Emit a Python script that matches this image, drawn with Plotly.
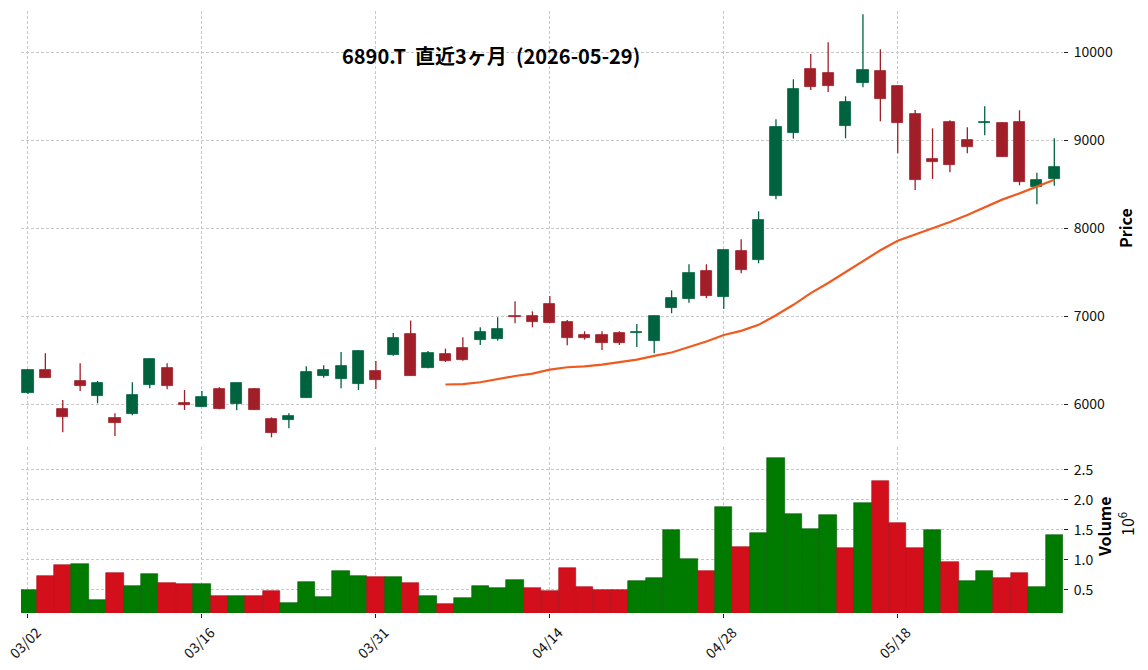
import pandas as pd
import plotly.graph_objects as go

dates = ["03/02","03/03","03/04","03/05","03/06","03/09","03/10","03/11","03/12","03/13",
         "03/16","03/17","03/18","03/19","03/23","03/24","03/25","03/26","03/27","03/30",
         "03/31","04/01","04/02","04/03","04/06","04/07","04/08","04/09","04/10","04/13",
         "04/14","04/15","04/16","04/17","04/20","04/21","04/22","04/23","04/24","04/27",
         "04/28","04/30","05/01","05/07","05/08","05/11","05/12","05/13","05/14","05/15",
         "05/18","05/19","05/20","05/21","05/22","05/25","05/26","05/27","05/28","05/29"]

opens = [6132,6390,5947,6265,6098,5845,5894,6223,6413,6015,
         5973,6174,6004,6174,5833,5826,6076,6326,6292,6235,
         6379,6564,6799,6417,6572,6640,6735,6746,7005,7004,
         7140,6936,6788,6788,6811,6810,6723,7098,7201,7515,
         7223,7742,7644,8371,9087,9811,9765,9167,9648,9788,
         9617,9299,8784,9208,9004,9200,9197,9208,8473,8561]
highs = [6395,6580,6049,6466,6265,5898,6250,6520,6466,6163,
         6151,6193,6245,6185,5852,5898,6432,6443,6595,6610,
         6492,6811,6951,6606,6633,6761,6875,6989,7170,7057,
         7231,6958,6830,6830,6830,6913,7010,7295,7591,7591,
         7754,7875,8193,9239,9693,9981,10114,9500,10432,10034,
         9625,9344,9136,9227,9148,9386,9208,9341,8632,9023]
lows = [6117,6300,5682,6151,6011,5640,5875,6182,6170,5936,
        5970,5943,5932,5935,5625,5727,6072,6303,6182,6163,
        6174,6553,6326,6410,6481,6496,6674,6723,6920,6875,
        6925,6670,6735,6617,6674,6652,6580,7034,7155,7205,
        7087,7489,7602,8330,9019,9572,9549,9023,9602,9216,
        8852,8436,8561,8636,8852,9057,8810,8489,8273,8482]
closes = [6390,6303,5860,6212,6242,5792,6106,6515,6212,5989,
          6083,5951,6242,5939,5678,5867,6367,6390,6436,6606,
          6280,6754,6326,6583,6496,6508,6822,6856,6995,6939,
          6928,6758,6752,6701,6696,6815,7008,7208,7492,7235,
          7754,7530,8095,9152,9583,9610,9621,9436,9799,9466,
          9201,8553,8758,8723,8928,9212,8814,8527,8545,8697]
volumes = [490000,730000,910000,930000,330000,780000,560000,760000,610000,590000,
           590000,390000,390000,390000,480000,280000,630000,380000,810000,730000,
           710000,710000,610000,390000,260000,360000,560000,530000,660000,530000,
           480000,860000,540000,490000,490000,640000,690000,1490000,1010000,810000,
           1870000,1210000,1440000,2690000,1760000,1520000,1740000,1190000,1940000,2310000,
           1620000,1190000,1490000,960000,640000,810000,690000,780000,540000,1410000]

tick_idx = [0, 10, 20, 30, 40, 50]
price_ticks = [6000, 7000, 8000, 9000, 10000]
price_ticktext = ["6000", "7000", "8000", "9000", "10000"]
vol_ticks = [500000, 1000000, 1500000, 2000000, 2500000]
vol_ticktext = ["0.5", "1.0", "1.5", "2.0", "2.5"]
title_text = "6890.T  直近3ヶ月  (2026-05-29)"

UP_C, DN_C = "#006340", "#a01f29"
VUP_C, VDN_C = "#007b00", "#d30f1c"
FONT = "Noto Sans CJK JP"

n = len(closes)
x = list(range(n))
up = [c >= o for o, c in zip(opens, closes)]
ma = pd.Series(closes).rolling(25).mean()

fig = go.Figure()

# wicks
for flag, col in [(True, UP_C), (False, DN_C)]:
    wx, wy = [], []
    for i in x:
        if up[i] == flag:
            wx += [i, i, None]
            wy += [lows[i], highs[i], None]
    fig.add_trace(go.Scatter(x=wx, y=wy, mode="lines", line=dict(color=col, width=1.3),
                             hoverinfo="skip", showlegend=False, xaxis="x", yaxis="y"))

# bodies
for flag, col in [(True, UP_C), (False, DN_C)]:
    bx = [i for i in x if up[i] == flag]
    base = [min(opens[i], closes[i]) for i in bx]
    hgt = [max(abs(closes[i] - opens[i]), 6) for i in bx]
    fig.add_trace(go.Bar(x=bx, y=hgt, base=base, width=0.64,
                         marker=dict(color=col, line=dict(color=col, width=0.8)),
                         showlegend=False, xaxis="x", yaxis="y"))

fig.add_trace(go.Scatter(x=x, y=ma, mode="lines", line=dict(color="#f05a1e", width=2.2),
                         showlegend=False, xaxis="x", yaxis="y"))

# volume colors: close vs previous close
vcols, vedge = [], []
for i in x:
    if i == 0:
        u = closes[0] >= opens[0]
    else:
        u = closes[i] > closes[i - 1]
    vcols.append(VUP_C if u else VDN_C)
    vedge.append("#005c00" if u else "#a80a14")
fig.add_trace(go.Bar(x=x, y=volumes, width=1.0,
                     marker=dict(color=vcols, line=dict(color=vedge, width=0.6)),
                     showlegend=False, xaxis="x2", yaxis="y2"))

grid = dict(showgrid=True, gridcolor="#c8c8c8", gridwidth=0.7, griddash="3px,2px", zeroline=False,
            showline=False, automargin=False)
L, R, T, B = 21, 85, 11, 57
H = 670 - T - B
Wd = 1148 - L - R
price_bottom_px, vol_top_px = 441, 447

fig.update_layout(
    width=1148, height=670,
    margin=dict(l=L, r=R, t=T, b=B, autoexpand=False),
    paper_bgcolor="white", plot_bgcolor="white",
    bargap=0, barmode="overlay",
    font=dict(family=FONT, size=14, color="#111111"),
    xaxis=dict(domain=[0, 1], range=[-0.4, 59.5], tickvals=tick_idx, showticklabels=False,
               ticks="", anchor="y", **grid),
    xaxis2=dict(domain=[0, 1], range=[-0.4, 59.5], tickvals=tick_idx,
                ticktext=[dates[i] for i in tick_idx], tickangle=-45, ticks="outside",
                ticklen=4, tickcolor="#222", anchor="y2", tickfont=dict(size=14),
                ticklabelshift=9, ticklabelstandoff=1, ticklabeloverflow="allow", **grid),
    yaxis=dict(domain=[(613 - price_bottom_px) / H, 1], range=[5583, 10469], side="right",
               tickvals=price_ticks, ticktext=price_ticktext, ticks="outside", ticklen=4,
               tickcolor="#222", ticklabelstandoff=3, anchor="x", **grid),
    yaxis2=dict(domain=[0, (613 - vol_top_px) / H], range=[112000, 2878000], side="right",
                tickvals=vol_ticks, ticktext=vol_ticktext, ticks="outside", ticklen=4,
                tickcolor="#222", ticklabelstandoff=3, anchor="x2", **grid),
)

def px2paper(px, py):
    return (px - L) / Wd, (670 - B - py) / H

tx, ty = px2paper(491, 55)
fig.add_annotation(text="<b>" + title_text + "</b>", x=tx, y=ty, xref="paper", yref="paper",
                   showarrow=False, font=dict(family=FONT, size=20, color="#000"),
                   xanchor="center", yanchor="middle")
ax, ay = px2paper(1125, 228)
fig.add_annotation(text="<b>Price</b>", x=ax, y=ay, xref="paper", yref="paper", showarrow=False,
                   textangle=-90, font=dict(family=FONT, size=16, color="#000"),
                   xanchor="center", yanchor="middle")
ax, ay = px2paper(1104, 527)
fig.add_annotation(text="<b>Volume</b>", x=ax, y=ay, xref="paper", yref="paper", showarrow=False,
                   textangle=-90, font=dict(family=FONT, size=16, color="#000"),
                   xanchor="center", yanchor="middle")
ax, ay = px2paper(1126, 524)
fig.add_annotation(text="10<sup>6</sup>", x=ax, y=ay, xref="paper", yref="paper", showarrow=False,
                   textangle=-90, font=dict(family=FONT, size=16, color="#000"),
                   xanchor="center", yanchor="middle")

fig.write_html("out.html")
